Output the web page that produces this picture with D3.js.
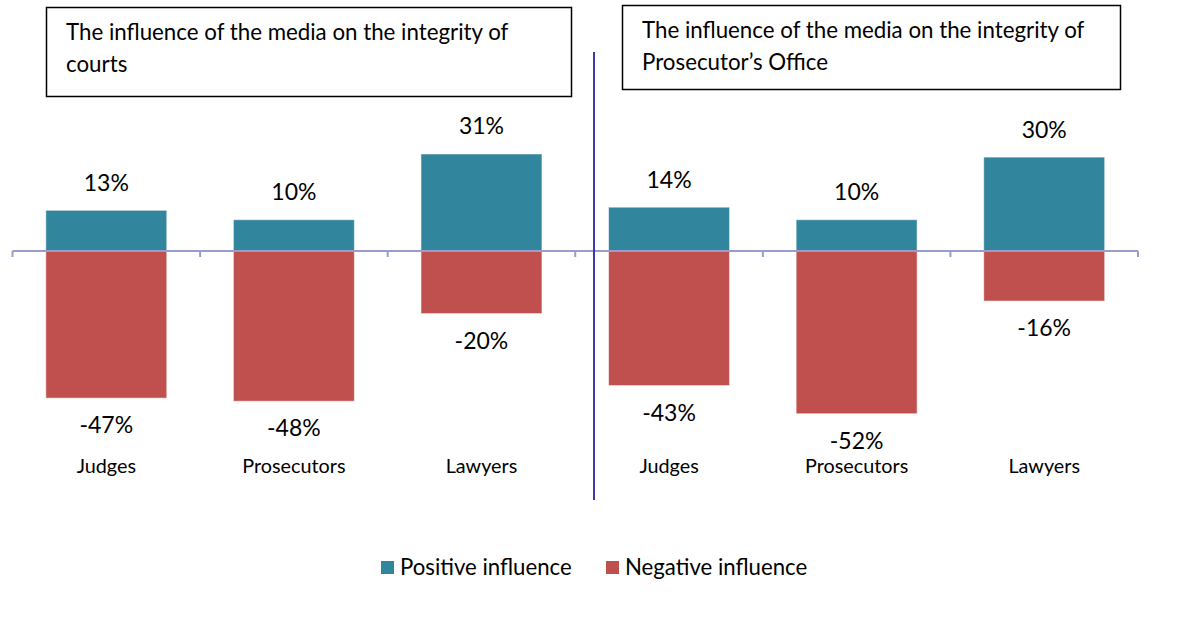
<!DOCTYPE html>
<html>
<head>
<meta charset="utf-8">
<script src="https://cdn.jsdelivr.net/npm/d3@7/dist/d3.min.js"></script>
<style>
  html, body { margin: 0; padding: 0; background: #fff; }
  svg { display: block; font-family: Lato, "Noto Sans", sans-serif; }
</style>
</head>
<body>
<svg id="chart" width="1190" height="636"></svg>
<script>
// Survey results: how the media influences the integrity of courts and of the Prosecutor's Office
const categories = ["Judges", "Prosecutors", "Lawyers", "Judges", "Prosecutors", "Lawyers"];
const positiveInfluence = [13, 10, 31, 14, 10, 30];
const negativeInfluence = [-47, -48, -20, -43, -52, -16];
const panelTitles = [
  ["The influence of the media on the integrity of", "courts"],
  ["The influence of the media on the integrity of", "Prosecutor’s Office"]
];
const seriesNames = ["Positive influence", "Negative influence"];

const colors = { pos: "#31859C", neg: "#C0504D", axis: "#9C9CCB", divider: "#3A3AA8" };

const svg = d3.select("#chart");

const x = d3.scaleBand()
  .domain(d3.range(categories.length))
  .range([12.5, 1138])
  .paddingInner(0.355)
  .paddingOuter(0.1775);

const y = d3.scaleLinear()
  .domain([-60, 40])
  .range([251 + 60 * 3.13, 251 - 40 * 3.13]);

const bars = svg.append("g");

// positive bars
bars.selectAll("rect.pos")
  .data(positiveInfluence)
  .join("rect")
  .attr("class", "pos")
  .attr("x", (d, i) => x(i))
  .attr("width", x.bandwidth())
  .attr("y", d => y(d))
  .attr("height", d => y(0) - y(d))
  .attr("fill", colors.pos)
  .attr("stroke", "rgba(255,255,255,0.55)")
  .attr("stroke-width", 1);

// negative bars
bars.selectAll("rect.neg")
  .data(negativeInfluence)
  .join("rect")
  .attr("class", "neg")
  .attr("x", (d, i) => x(i))
  .attr("width", x.bandwidth())
  .attr("y", y(0))
  .attr("height", d => y(d) - y(0))
  .attr("fill", colors.neg)
  .attr("stroke", "rgba(255,255,255,0.55)")
  .attr("stroke-width", 1);

// zero axis with tick marks at category boundaries
const axisG = svg.append("g");
axisG.append("line")
  .attr("x1", x.range()[0]).attr("x2", x.range()[1])
  .attr("y1", y(0)).attr("y2", y(0))
  .attr("stroke", colors.axis).attr("stroke-width", 2);
const boundaries = d3.range(categories.length + 1).map(i => x.range()[0] + i * x.step());
axisG.selectAll("line.tick")
  .data(boundaries)
  .join("line")
  .attr("class", "tick")
  .attr("x1", d => d).attr("x2", d => d)
  .attr("y1", y(0)).attr("y2", y(0) + 6)
  .attr("stroke", colors.axis).attr("stroke-width", 2);

// value labels
const labels = svg.append("g").attr("font-size", 23).attr("fill", "#000").attr("text-anchor", "middle");
labels.selectAll("text.pos")
  .data(positiveInfluence)
  .join("text")
  .attr("x", (d, i) => x(i) + x.bandwidth() / 2)
  .attr("y", d => y(d) - 19.5)
  .text(d => d + "%");
labels.selectAll("text.neg")
  .data(negativeInfluence)
  .join("text")
  .attr("x", (d, i) => x(i) + x.bandwidth() / 2)
  .attr("y", d => y(d) + 35)
  .text(d => d + "%");

// category labels
svg.append("g").attr("font-size", 19.8).attr("text-anchor", "middle")
  .selectAll("text")
  .data(categories)
  .join("text")
  .attr("x", (d, i) => x(i) + x.bandwidth() / 2)
  .attr("y", 473)
  .text(d => d);

// divider between the two panels
svg.append("line")
  .attr("x1", 594).attr("x2", 594)
  .attr("y1", 52).attr("y2", 500)
  .attr("stroke", colors.divider).attr("stroke-width", 2);

// panel title boxes
const boxes = [
  { x: 46, y: 7, w: 525, h: 89 },
  { x: 622, y: 5, w: 498, h: 84 }
];
boxes.forEach((b, k) => {
  const g = svg.append("g");
  g.append("rect")
    .attr("x", b.x + 0.5).attr("y", b.y + 0.5)
    .attr("width", b.w).attr("height", b.h)
    .attr("fill", "#fff").attr("stroke", "#000").attr("stroke-width", 1.5);
  g.selectAll("text")
    .data(panelTitles[k])
    .join("text")
    .attr("x", b.x + 20)
    .attr("y", (d, i) => b.y + 33 + i * 32)
    .attr("font-size", 22.3)
    .text(d => d);
});

// legend
const legend = svg.append("g").attr("font-size", 22.2);
const legendItems = [
  { name: seriesNames[0], color: colors.pos, x: 381 },
  { name: seriesNames[1], color: colors.neg, x: 606 }
];
legendItems.forEach(it => {
  legend.append("rect")
    .attr("x", it.x).attr("y", 561)
    .attr("width", 13).attr("height", 13)
    .attr("fill", it.color);
  legend.append("text")
    .attr("x", it.x + 19).attr("y", 575)
    .text(it.name);
});
</script>
</body>
</html>
